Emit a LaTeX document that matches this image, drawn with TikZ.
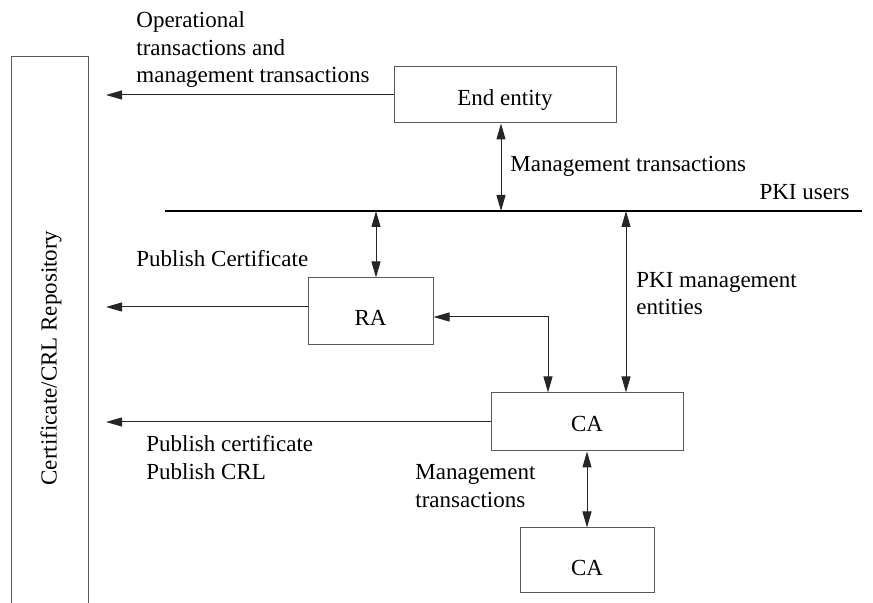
\documentclass[tikz,border=0pt]{standalone}
\usepackage{fontspec}
\setmainfont{Liberation Serif}
\usetikzlibrary{arrows.meta,calc}
\begin{document}
\begin{tikzpicture}[x=0.5pt,y=-0.5pt,
  txt/.style={font=\fontsize{11.5}{13.75}\selectfont},
  box/.style={txt,draw=black!65,line width=0.5pt,rectangle,inner sep=0pt,text depth=0pt},
  lbl/.style={txt,anchor=base west,inner sep=0pt,align=left},
  con/.style={line width=0.5pt,draw=black!85},
  onetip/.style={con,-{Triangle[length=8pt,width=4.5pt]}},
  twotip/.style={con,{Triangle[length=8pt,width=4.5pt]}-{Triangle[length=8pt,width=4.5pt]}}
]
\useasboundingbox (0,0) rectangle (873,603);

% repository (open at the bottom)
\draw[draw=black!65,line width=0.5pt] (11,603) -- (11,57) -- (88,57) -- (88,603);
\node[txt,rotate=90,inner sep=0pt] (repo) at (51,358) {Certificate/CRL Repository};
\coordinate (tipx) at (106,0);

% boxes
\node[box,minimum width=111pt,minimum height=28pt,text height=11pt] (ee) at (505,95) {End entity};
\node[box,minimum width=62.5pt,minimum height=33.5pt,text height=14.5pt] (ra) at (370.5,311.5) {RA};
\node[box,minimum width=96pt,minimum height=29pt,text height=10pt] (ca) at (587,422) {CA};
\node[box,minimum width=67pt,minimum height=32.5pt,text height=15.5pt] (ca2) at (587,560.5) {CA};

% PKI users line
\coordinate (l1) at (165,211);
\coordinate (l2) at (862,211);
\draw[line width=1pt] (l1) -- (l2);

% helper coordinates
\coordinate (eex) at (501,0);
\coordinate (rax) at (376,0);
\coordinate (rcy) at (548,317);
\coordinate (pkx) at (626,0);
\coordinate (ray) at (0,307);

% connectors
\draw[onetip] (ee.west) -- (ee.west -| tipx);
\draw[twotip] (ee.south -| eex) -- (l1 -| eex);
\draw[twotip] (l1 -| rax) -- (ra.north -| rax);
\draw[onetip] (ra.west |- ray) -- (tipx |- ray);
\draw[twotip] (ra.east |- rcy) -| (ca.north -| rcy);
\draw[twotip] (l1 -| pkx) -- (ca.north -| pkx);
\draw[onetip] (ca.west) -- (ca.west -| tipx);
\draw[twotip] (ca.south) -- (ca2.north);

% labels (base anchor = baseline of the last line)
\node[lbl] (l-op) at (136,83) {Operational\\transactions and\\management transactions};
\node[lbl] (l-mt) at (510,172) {Management transactions};
\node[txt,anchor=base east,inner sep=0pt] (l-pu) at (850,200) {PKI users};
\node[lbl] (l-pc) at (136,267) {Publish Certificate};
\node[lbl] (l-pm) at (636,315) {PKI management\\entities};
\node[lbl,font=\fontsize{11.5}{14}\selectfont] (l-pcrl) at (146,480) {Publish certificate\\Publish CRL};
\node[lbl,font=\fontsize{11.5}{14}\selectfont] (l-mt2) at (415,508) {Management\\transactions};
\end{tikzpicture}
\end{document}
